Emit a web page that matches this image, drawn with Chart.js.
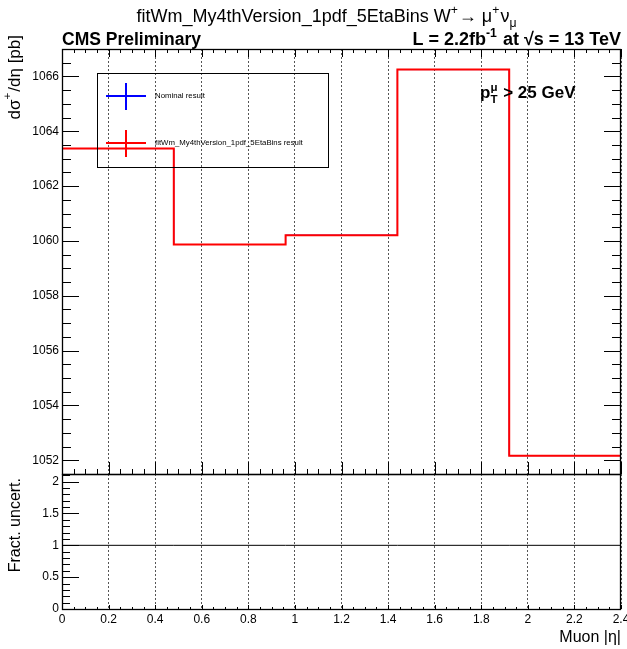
<!DOCTYPE html>
<html lang="en">
<head>
    <meta charset="UTF-8">
    <title>fitWm W+ cross section vs muon eta</title>
    <script src="https://cdn.jsdelivr.net/npm/chart.js"></script>
    <style>
        body {
            margin: 0;
            background: #fff;
        }

        #wrap {
            position: relative;
            width: 627px;
            height: 649px;
            background: #fff;
        }

        #xsec-chart, #ratio-chart {
            position: absolute;
            left: 0;
        }

        #xsec-chart { top: 0; }
        #ratio-chart { top: 472px; }
    </style>
</head>
<body>
    <div id="wrap">
        <canvas id="xsec-chart" width="627" height="476"></canvas>
        <canvas id="ratio-chart" width="627" height="177"></canvas>
    </div>

    <script>
        // Muon |eta| bin edges and the per-bin cross sections (pb)
        const binEdges = [0, 0.48, 0.96, 1.44, 1.92, 2.4];
        const nominalXsec = [1063.37, 1059.87, 1060.21, 1066.25, 1052.17];
        const fitXsec = [1063.37, 1059.87, 1060.21, 1066.25, 1052.17];
        const fractUncert = [1, 1, 1, 1, 1];

        // axis ranges and labelled ticks
        const etaRange = [0, 2.4];
        const xsecRange = [1051.5, 1067];
        const fractRange = [0, 2.12];
        const etaTicks = [0, 0.2, 0.4, 0.6, 0.8, 1, 1.2, 1.4, 1.6, 1.8, 2, 2.2, 2.4];
        const xsecTicks = [1052, 1054, 1056, 1058, 1060, 1062, 1064, 1066];
        const fractTicks = [0, 0.5, 1, 1.5, 2];

        const FONT = '"Liberation Sans", Arial, sans-serif';

        // one point per bin edge, the last bin repeated so the step reaches 2.4
        function histPoints(values) {
            return binEdges.map((x, i) => ({ x: x, y: values[Math.min(i, values.length - 1)] }));
        }

        // draw text made of pieces: plain strings, {sup}, {sub} or {sup, sub} stacked
        function drawRich(ctx, parts, x, y, size, weight, align) {
            const small = size * 0.68;
            const font = s => `${weight} ${s}px ${FONT}`;
            const widths = parts.map(p => {
                if (typeof p === 'string') {
                    ctx.font = font(size);
                    return ctx.measureText(p).width;
                }
                ctx.font = font(small);
                return Math.max(p.sup ? ctx.measureText(p.sup).width : 0,
                                p.sub ? ctx.measureText(p.sub).width : 0) + 1;
            });
            const total = widths.reduce((a, b) => a + b, 0);
            let cx = align === 'right' ? x - total : align === 'center' ? x - total / 2 : x;
            ctx.textAlign = 'left';
            parts.forEach((p, i) => {
                if (typeof p === 'string') {
                    ctx.font = font(size);
                    ctx.fillText(p, cx, y);
                } else {
                    ctx.font = font(small);
                    if (p.sup) ctx.fillText(p.sup, cx, y - size * 0.42);
                    if (p.sub) ctx.fillText(p.sub, cx, y + size * 0.3);
                }
                cx += widths[i];
            });
        }

        // keep the plot frame exactly where the padding puts it
        function fixWidth(w) {
            return s => { s.width = w; s.paddingTop = 0; s.paddingBottom = 0; };
        }
        function fixHeight(h) {
            return s => { s.height = h; s.paddingLeft = 0; s.paddingRight = 0; };
        }

        // frame with inward ticks on the sides that ask for them
        const rootFrame = {
            id: 'rootFrame',
            afterDraw(chart, args, opts) {
                const { ctx, chartArea: a } = chart;
                const xs = chart.scales.x, ys = chart.scales.y;
                ctx.save();
                ctx.strokeStyle = '#000';
                ctx.lineWidth = 1;
                ctx.beginPath();
                const sideTicks = (scale, step, majorEvery, len, draw) => {
                    const first = Math.ceil(scale.min / step - 1e-6);
                    for (let k = first; k * step <= scale.max + 1e-9; k++) {
                        const isMajor = k % majorEvery === 0;
                        draw(Math.round(scale.getPixelForValue(k * step)) + 0.5, isMajor ? len[0] : len[1]);
                    }
                };
                if (opts.top) sideTicks(xs, opts.xStep, opts.xMajorEvery, opts.top, (p, l) => {
                    ctx.moveTo(p, a.top); ctx.lineTo(p, a.top + l);
                });
                if (opts.bottom) sideTicks(xs, opts.xStep, opts.xMajorEvery, opts.bottom, (p, l) => {
                    ctx.moveTo(p, a.bottom); ctx.lineTo(p, a.bottom - l);
                });
                if (opts.left) sideTicks(ys, opts.yStep, opts.yMajorEvery, opts.left, (p, l) => {
                    ctx.moveTo(a.left, p); ctx.lineTo(a.left + l, p);
                });
                if (opts.right) sideTicks(ys, opts.yStep, opts.yMajorEvery, opts.right, (p, l) => {
                    ctx.moveTo(a.right, p); ctx.lineTo(a.right - l, p);
                });
                ctx.stroke();
                ctx.lineWidth = 1.3;
                ctx.strokeRect(Math.round(a.left) + 0.5, Math.round(a.top) + 0.5,
                               Math.round(a.right - a.left) - 1, Math.round(a.bottom - a.top));
                ctx.restore();
            }
        };

        // titles, labels and the legend box
        const annotations = {
            id: 'annotations',
            afterDraw(chart, args, opts) {
                const ctx = chart.ctx;
                ctx.save();
                ctx.fillStyle = '#000';
                ctx.textBaseline = 'alphabetic';
                (opts.texts || []).forEach(t => {
                    if (t.rotate) {
                        ctx.save();
                        ctx.translate(t.x, t.y);
                        ctx.rotate(-Math.PI / 2);
                        ctx.textBaseline = 'middle';
                        drawRich(ctx, t.parts, 0, 0, t.size, t.weight || 'normal', t.align);
                        ctx.restore();
                    } else {
                        drawRich(ctx, t.parts, t.x, t.y, t.size, t.weight || 'normal', t.align);
                    }
                });
                if (opts.legend) {
                    const L = opts.legend;
                    ctx.strokeStyle = '#000';
                    ctx.lineWidth = 1;
                    ctx.strokeRect(L.x + 0.5, L.y + 0.5, L.w, L.h);
                    L.entries.forEach((idx, row) => {
                        const ds = chart.data.datasets[idx];
                        const cy = L.y + L.rows[row];
                        ctx.strokeStyle = ds.borderColor;
                        ctx.lineWidth = 2;
                        ctx.beginPath();
                        ctx.moveTo(L.x + 9, cy);
                        ctx.lineTo(L.x + 49, cy);
                        ctx.moveTo(L.x + 29, cy - 13);
                        ctx.lineTo(L.x + 29, cy + 14);
                        ctx.stroke();
                        ctx.fillStyle = '#000';
                        ctx.font = `7.8px ${FONT}`;
                        ctx.textBaseline = 'middle';
                        ctx.fillText(ds.label, L.x + 58, cy);
                    });
                }
                ctx.restore();
            }
        };

        const tickFont = { family: FONT, size: 12 };

        const xsecChart = new Chart(document.getElementById('xsec-chart'), {
            type: 'line',
            data: {
                datasets: [
                    {
                        label: 'fitWm_My4thVersion_1pdf_5EtaBins result',
                        data: histPoints(fitXsec),
                        borderColor: '#ff0000',
                        borderWidth: 2,
                        stepped: true,
                        pointRadius: 0,
                        fill: false,
                        order: 0,
                    },
                    {
                        // identical to the fit, so it sits thin underneath the red line
                        label: 'Nominal result',
                        data: histPoints(nominalXsec),
                        borderColor: '#0000ff',
                        borderWidth: 1,
                        stepped: true,
                        pointRadius: 0,
                        fill: false,
                        order: 1,
                    },
                ],
            },
            options: {
                responsive: false,
                animation: false,
                layout: { padding: { left: 0, right: 6, top: 49, bottom: 2 } },
                plugins: {
                    legend: { display: false },
                    tooltip: { enabled: false },
                    rootFrame: {
                        xStep: 0.05, xMajorEvery: 4, yStep: 0.5, yMajorEvery: 4,
                        top: [8, 4], bottom: [12, 5], left: [17, 9], right: [17, 9],
                    },
                    annotations: {
                        texts: [
                            { parts: ['fitWm_My4thVersion_1pdf_5EtaBins W', { sup: '+' }, '\u2192 \u03bc', { sup: '+' }, '\u03bd', { sub: '\u03bc' }],
                              x: 327, y: 22, size: 18, align: 'center' },
                            { parts: ['CMS Preliminary'], x: 62, y: 45, size: 17.5, weight: 'bold', align: 'left' },
                            { parts: ['L = 2.2fb', { sup: '-1' }, ' at \u221as = 13 TeV'], x: 621, y: 45, size: 18, weight: 'bold', align: 'right' },
                            { parts: ['p', { sup: '\u03bc', sub: 'T' }, ' > 25 GeV'], x: 480, y: 98, size: 17, weight: 'bold', align: 'left' },
                            { parts: ['d\u03c3', { sup: '+' }, '/d\u03b7 [pb]'], x: 15, y: 35, size: 17, align: 'right', rotate: true },
                        ],
                        legend: { x: 97, y: 73, w: 231, h: 94, rows: [23, 70], entries: [1, 0] },
                    },
                },
                scales: {
                    x: {
                        type: 'linear',
                        min: etaRange[0],
                        max: etaRange[1],
                        afterBuildTicks: s => { s.ticks = etaTicks.map(v => ({ value: v })); },
                        afterFit: fixHeight(0),
                        ticks: { display: false },
                        grid: { color: '#555', lineWidth: 1, drawTicks: false },
                        border: { display: false, dash: [2, 2] },
                    },
                    y: {
                        min: xsecRange[0],
                        max: xsecRange[1],
                        afterBuildTicks: s => { s.ticks = xsecTicks.map(v => ({ value: v })); },
                        afterFit: fixWidth(62),
                        ticks: { font: tickFont, color: '#000', padding: 3, callback: v => String(v) },
                        grid: { display: false, drawTicks: false },
                        border: { display: false },
                    },
                },
            },
            plugins: [rootFrame, annotations],
        });

        const ratioChart = new Chart(document.getElementById('ratio-chart'), {
            type: 'line',
            data: {
                datasets: [
                    {
                        label: 'Fract. uncert.',
                        data: histPoints(fractUncert),
                        borderColor: '#000',
                        borderWidth: 1,
                        stepped: true,
                        pointRadius: 0,
                        fill: false,
                    },
                ],
            },
            options: {
                responsive: false,
                animation: false,
                layout: { padding: { left: 0, right: 6, top: 2, bottom: 0 } },
                plugins: {
                    legend: { display: false },
                    tooltip: { enabled: false },
                    rootFrame: {
                        xStep: 0.05, xMajorEvery: 4, yStep: 0.1, yMajorEvery: 5,
                        bottom: [4, 2], left: [17, 8],
                    },
                    annotations: {
                        texts: [
                            { parts: ['Fract. uncert.'], x: 16, y: 6, size: 16, align: 'right', rotate: true },
                            { parts: ['Muon |\u03b7|'], x: 621, y: 170, size: 16, align: 'right' },
                        ],
                    },
                },
                scales: {
                    x: {
                        type: 'linear',
                        min: etaRange[0],
                        max: etaRange[1],
                        afterBuildTicks: s => { s.ticks = etaTicks.map(v => ({ value: v })); },
                        afterFit: fixHeight(40),
                        ticks: { font: tickFont, color: '#000', padding: 3, maxRotation: 0, autoSkip: false, callback: v => String(v) },
                        grid: { color: '#555', lineWidth: 1, drawTicks: false },
                        border: { display: false, dash: [2, 2] },
                    },
                    y: {
                        min: fractRange[0],
                        max: fractRange[1],
                        afterBuildTicks: s => { s.ticks = fractTicks.map(v => ({ value: v })); },
                        afterFit: fixWidth(62),
                        ticks: { font: tickFont, color: '#000', padding: 3, callback: v => String(v) },
                        grid: { display: false, drawTicks: false },
                        border: { display: false },
                    },
                },
            },
            plugins: [rootFrame, annotations],
        });
    </script>
</body>
</html>
